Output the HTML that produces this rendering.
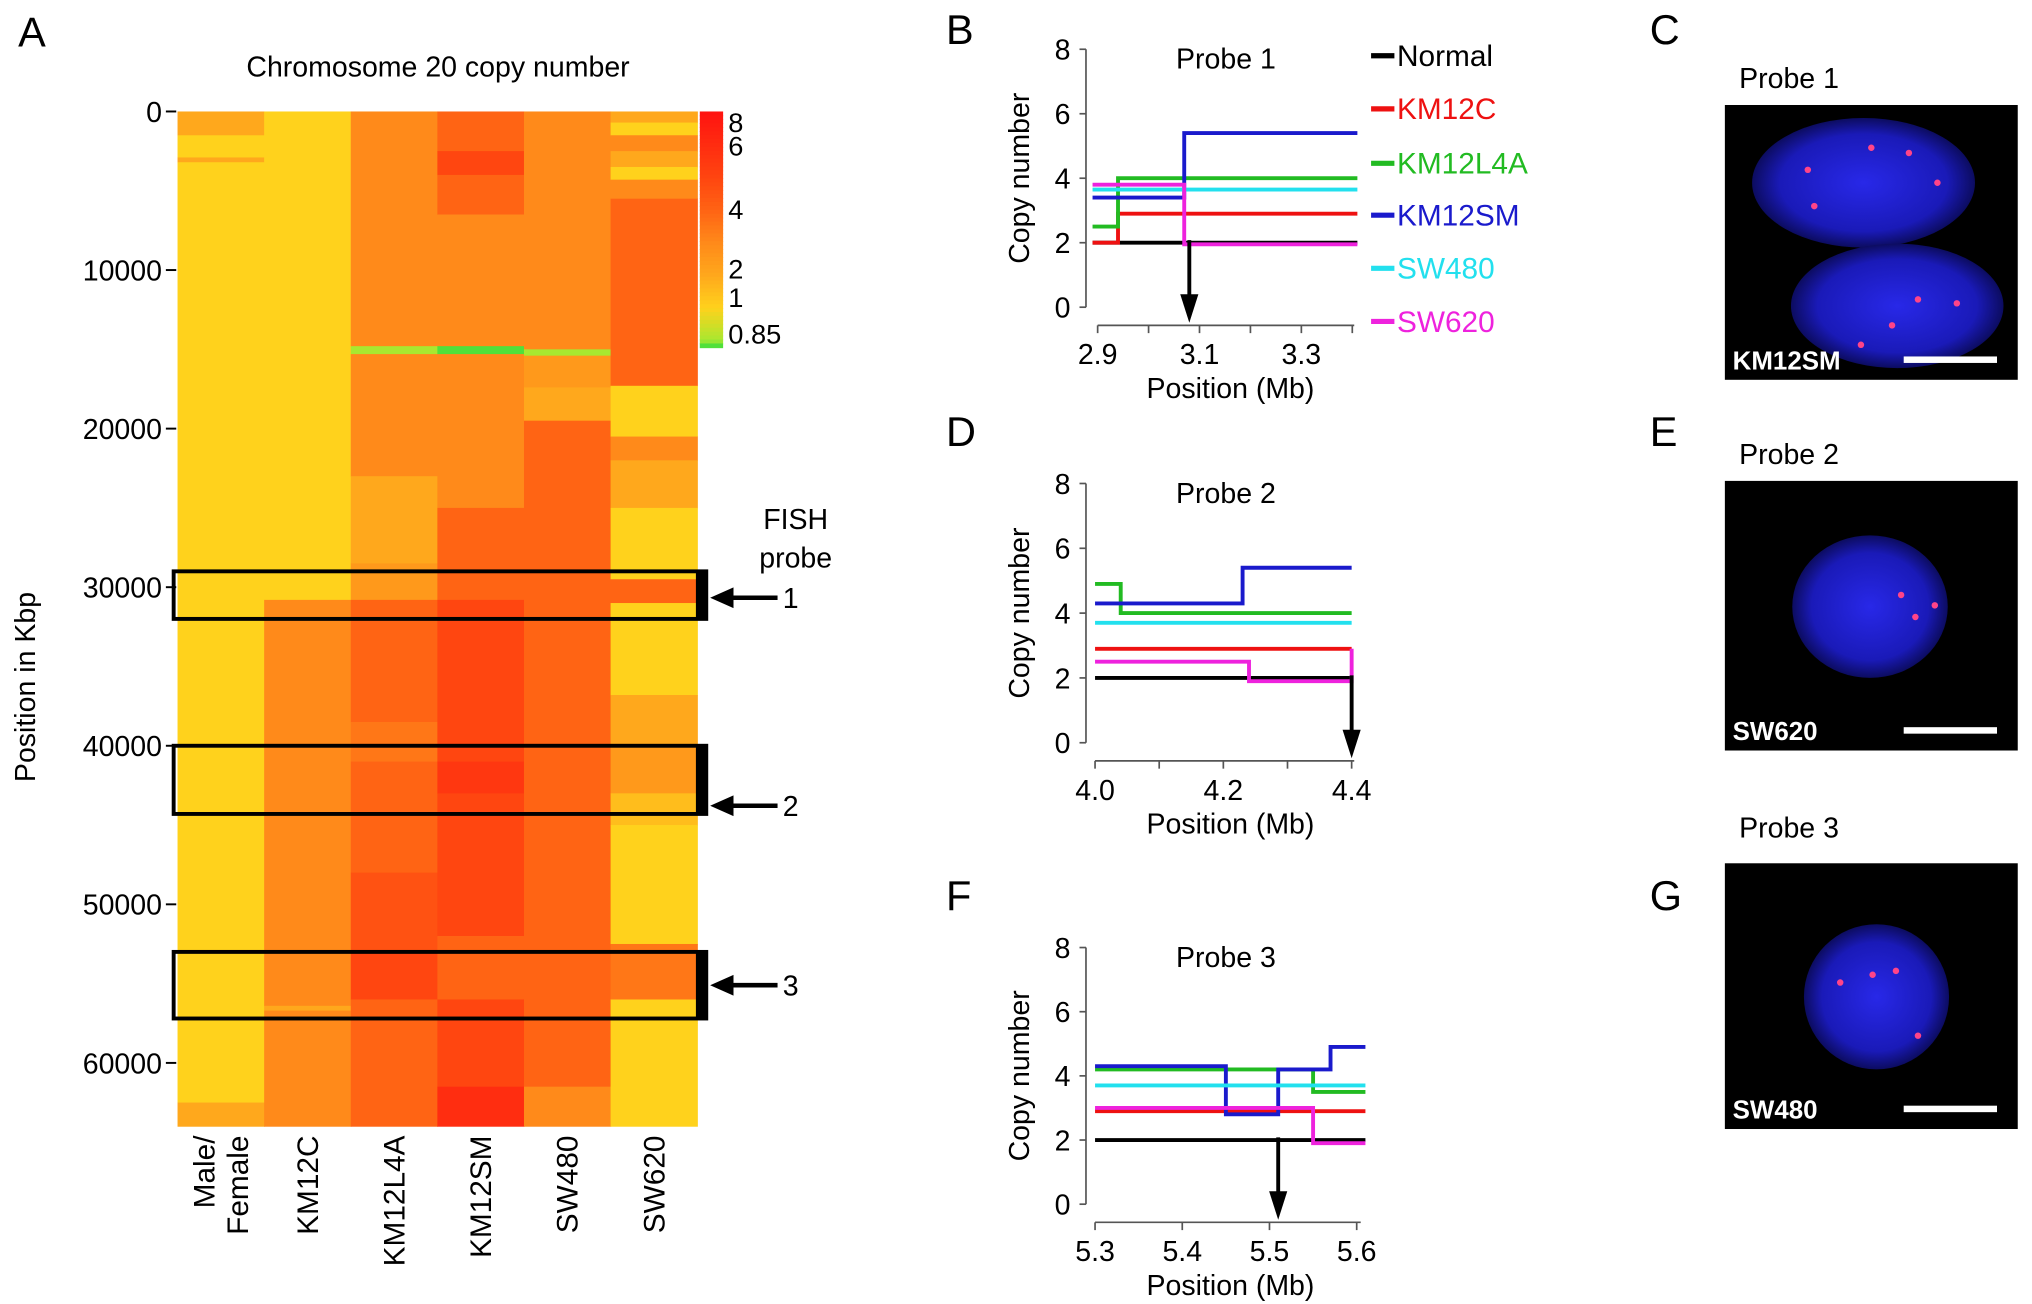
<!DOCTYPE html>
<html><head><meta charset="utf-8"><style>
html,body{margin:0;padding:0;background:#fff}
svg{display:block}
text{font-family:"Liberation Sans",Arial,sans-serif}
</style></head><body>
<svg id="fig" width="2032" height="1304" viewBox="0 0 1568 1006" preserveAspectRatio="none" xmlns="http://www.w3.org/2000/svg">
<g id="panelA"></g>
<g id="panelLines"></g>
<g id="panelImg"></g>
</svg>
<script>
// ---- heatmap data ----
const hmColumns = ["Male/\nFemale","KM12C","KM12L4A","KM12SM","SW480","SW620"];
const hmSegments = [
 [[0,1500,3],[1500,2900,2],[2900,3200,3],[3200,62500,2],[62500,64000,3]],
 [[0,30800,2],[30800,56400,4],[56400,56700,3],[56700,64000,4]],
 [[0,14800,4],[14800,15300,1],[15300,23000,4],[23000,28500,3],[28500,30800,3.5],[30800,38500,5],[38500,41000,4.5],[41000,48000,5],[48000,53000,5.6],[53000,56000,6],[56000,64000,5]],
 [[0,2500,5],[2500,4000,6],[4000,6500,5],[6500,14800,4],[14800,15300,0.85],[15300,25000,4],[25000,30800,5],[30800,41000,6],[41000,43000,6.6],[43000,52000,6],[52000,56000,5],[56000,61500,6],[61500,64000,7]],
 [[0,15000,4],[15000,15400,1],[15400,17400,3.5],[17400,19500,3],[19500,61500,5],[61500,64000,4]],
 [[0,700,3],[700,1500,2],[1500,2500,4],[2500,3500,3],[3500,4300,2],[4300,5500,4],[5500,17300,5],[17300,20500,2],[20500,22000,4],[22000,25000,3],[25000,29500,2],[29500,31000,5],[31000,36800,2],[36800,40000,3],[40000,43000,3.5],[43000,45000,2.5],[45000,52500,2],[52500,56000,4.5],[56000,57500,2],[57500,64000,2]]
];
const hmYTicks = [0,10000,20000,30000,40000,50000,60000];
const cbTicks = [8,6,4,2,1,0.85];
const probeBoxes = [[29000,32000,"1"],[40000,44300,"2"],[53000,57200,"3"]];

// ---- line chart data ----
const seriesNames = ["Normal","KM12C","KM12L4A","KM12SM","SW480","SW620"];
const seriesColors = ["#000000","#ee1111","#22bb22","#1a1acc","#22e0ee","#ee22dd"];
const p1Steps = [
 [[2.89,3.41],[2]],
 [[2.89,2.94,3.41],[2,2.9]],
 [[2.89,2.94,3.41],[2.5,4.0]],
 [[2.89,3.07,3.41],[3.4,5.4]],
 [[2.89,3.41],[3.65]],
 [[2.89,3.07,3.41],[3.8,1.95]]
];
const p2Steps = [
 [[4.0,4.4],[2]],
 [[4.0,4.4],[2.9]],
 [[4.0,4.04,4.4],[4.9,4.0]],
 [[4.0,4.23,4.4],[4.3,5.4]],
 [[4.0,4.4],[3.7]],
 [[4.0,4.24,4.4],[2.5,1.9]]
];
const p3Steps = [
 [[5.3,5.61],[2]],
 [[5.3,5.61],[2.9]],
 [[5.3,5.55,5.61],[4.2,3.5]],
 [[5.3,5.45,5.51,5.57,5.61],[4.3,2.8,4.2,4.9]],
 [[5.3,5.61],[3.7]],
 [[5.3,5.55,5.61],[3.0,1.9]]
];
const p1XTicks=[2.9,3.0,3.1,3.2,3.3,3.4], p1XLabels=[2.9,3.1,3.3];
const p2XTicks=[4.0,4.1,4.2,4.3,4.4], p2XLabels=[4.0,4.2,4.4];
const p3XTicks=[5.3,5.4,5.5,5.6], p3XLabels=[5.3,5.4,5.5,5.6];
const yTicksLine=[0,2,4,6,8];

const NS="http://www.w3.org/2000/svg";
function mk(tag,attrs,parent,txt){const e=document.createElementNS(NS,tag);for(const k in attrs)e.setAttribute(k,attrs[k]);if(txt!==undefined)e.textContent=txt;parent.appendChild(e);return e;}

const stops=[[0.85,[80,224,58]],[1,[168,232,48]],[2,[255,210,28]],[3,[255,168,28]],[4,[255,138,26]],[5,[255,100,20]],[6,[255,70,16]],[8,[255,20,16]]];
function colorOf(v){
 if(v<=stops[0][0])return "rgb("+stops[0][1]+")";
 for(let i=1;i<stops.length;i++){if(v<=stops[i][0]){const a=stops[i-1],b=stops[i];const t=(v-a[0])/(b[0]-a[0]);const c=a[1].map((x,j)=>Math.round(x+(b[1][j]-x)*t));return "rgb("+c+")";}}
 return "rgb("+stops[stops.length-1][1]+")";
}

// ---- Panel A ----
const A=document.getElementById('panelA');
const hx0=137,colW=(538-137)/6;
const ky=v=>86+v*(734/60000);
let t;
t=mk('text',{x:14,y:36,'font-size':32},A,'A');


t=mk('text',{x:338,y:59,'font-size':22,'text-anchor':'middle'},A,'Chromosome 20 copy number');


hmSegments.forEach((col,ci)=>{col.forEach((s,si)=>{
 const r=mk('rect',{x:hx0+ci*colW,y:ky(s[0]),width:colW+0.5,height:ky(s[1])-ky(s[0])+0.3,fill:colorOf(s[2])},A);
 
 
});});
hmYTicks.forEach(v=>{
 const tt=mk('text',{x:125,y:ky(v)+8,'font-size':22,'text-anchor':'end'},A,String(v));
 
 
 mk('line',{x1:128,x2:136,y1:ky(v),y2:ky(v),stroke:'#000','stroke-width':1.5},A);
});
t=mk('text',{transform:'translate(27,530) rotate(-90)','font-size':22,'text-anchor':'middle'},A,'Position in Kbp');


hmColumns.forEach((c,ci)=>{
 const lines=c.split('\n');const cx=hx0+(ci+0.5)*colW;
 lines.forEach((ln,li)=>{
  const off=(li-(lines.length-1)/2)*26;
  const tt=mk('text',{transform:'translate('+(cx+8+off)+',876) rotate(-90)','font-size':23,'text-anchor':'end'},A,ln);
  
  
 });
});
const cbTop=86,cbBot=268;
for(let i=0;i<60;i++){const v=8-(8-0.85)*i/59;mk('rect',{x:540,y:cbTop+(cbBot-cbTop)*i/60,width:18,height:(cbBot-cbTop)/60+0.6,fill:colorOf(v)},A);}
const cbPos=[95,113,162,208,230,258];
cbTicks.forEach((v,i)=>{const tt=mk('text',{x:562,y:cbPos[i]+7,'font-size':21},A,String(v));
 
 });
t=mk('text',{x:614,y:408,'font-size':22,'text-anchor':'middle'},A,'FISH');


mk('text',{x:614,y:438,'font-size':22,'text-anchor':'middle'},A,'probe');
probeBoxes.forEach(b=>{
 const y1=ky(b[0]),y2=ky(b[1]);
 const r=mk('rect',{x:hx0-3,y:y1,width:545-hx0+3,height:y2-y1,fill:'none',stroke:'#000','stroke-width':3},A);
 
 
 mk('rect',{x:537,y:y1,width:8,height:y2-y1,fill:'#000'},A);
 const ay=(y1+y2)/2+ (b[2]==="1"?2:(b[2]==="2"?20:0));
 mk('line',{x1:600,x2:562,y1:ay,y2:ay,stroke:'#000','stroke-width':3.5},A);
 mk('polygon',{points:(548)+','+ay+' '+(566)+','+(ay-8)+' '+(566)+','+(ay+8),fill:'#000'},A);
 const tt=mk('text',{x:604,y:ay+8,'font-size':22},A,b[2]);
 
 
});

// ---- Line panels ----
const L=document.getElementById('panelLines');
function linePanel(id,letter,letterY,title,steps,xticks,xlabels,xmin,x0px,pxPer,yTop,yBot,arrowX,xEnd){
 const g=mk('g',{},L);
 const sx=v=>x0px+(v-xmin)*pxPer; const sy=v=>yBot-(yBot-yTop)*v/8;
 let e=mk('text',{x:730,y:letterY,'font-size':32},g,letter);
 
 
 mk('line',{x1:838,x2:838,y1:sy(8),y2:sy(0),stroke:'#555','stroke-width':1.3},g);
 yTicksLine.forEach(v=>{mk('line',{x1:833,x2:838,y1:sy(v),y2:sy(v),stroke:'#555','stroke-width':1.3},g);
  const tt=mk('text',{x:826,y:sy(v)+8,'font-size':22,'text-anchor':'end'},g,String(v));
  
  });
 const ax=yBot+14;
 mk('line',{x1:sx(xticks[0]),x2:xEnd,y1:ax,y2:ax,stroke:'#555','stroke-width':1.3},g);
 xticks.forEach(v=>mk('line',{x1:sx(v),x2:sx(v),y1:ax,y2:ax+6,stroke:'#555','stroke-width':1.3},g));
 xlabels.forEach(v=>{const tt=mk('text',{x:sx(v),y:ax+30,'font-size':22,'text-anchor':'middle'},g,v.toFixed(1));
  
  });
 e=mk('text',{x:(838+1045)/2+8,y:ax+56,'font-size':22,'text-anchor':'middle'},g,'Position (Mb)');
 
 
 e=mk('text',{transform:'translate(794,'+((yTop+yBot)/2)+') rotate(-90)','font-size':22,'text-anchor':'middle'},g,'Copy number');
 
 
 e=mk('text',{x:946,y:yTop+15,'font-size':22,'text-anchor':'middle'},g,title);
 
 
 steps.forEach((s,si)=>{
  const xs=s[0],vs=s[1];let d='';
  vs.forEach((v,i)=>{d+=(i===0?'M':'L')+sx(xs[i])+','+sy(v)+' L'+sx(xs[i+1])+','+sy(v)+' ';});
  if(id==='probe-2'&&si===5)d+='L'+sx(xs[xs.length-1])+','+sy(2.9);
  const p=mk('path',{d:d,fill:'none',stroke:seriesColors[si],'stroke-width':3},g);
  
  
 });
 const axp=sx(arrowX);
 mk('line',{x1:axp,x2:axp,y1:sy(2)-2,y2:yBot-6,stroke:'#000','stroke-width':3},g);
 mk('polygon',{points:axp+','+(yBot+12)+' '+(axp-7)+','+(yBot-10)+' '+(axp+7)+','+(yBot-10),fill:'#000'},g);
}
linePanel('probe-1','B',34,'Probe 1',p1Steps,p1XTicks,p1XLabels,2.9,847,393,38,237,3.08,1045);
linePanel('probe-2','D',344,'Probe 2',p2Steps,p2XTicks,p2XLabels,4.0,845,495,373,573,4.4,1045);
linePanel('probe-3','F',702,'Probe 3',p3Steps,p3XTicks,p3XLabels,5.3,845,673,731,929,5.51,1050);
const legY=[43,84,126,166,207,248];
seriesNames.forEach((n,i)=>{
 mk('line',{x1:1058,x2:1076,y1:legY[i],y2:legY[i],stroke:seriesColors[i],'stroke-width':4},L);
 const tt=mk('text',{x:1078,y:legY[i]+8,'font-size':23,fill:seriesColors[i]},L,n);
 
 
});

// ---- micrographs ----
const I=document.getElementById('panelImg');
mk('defs',{},I).innerHTML='<radialGradient id="nuc" cx="50%" cy="50%" r="50%"><stop offset="0" stop-color="#2828e8"/><stop offset="0.75" stop-color="#1a1ab8"/><stop offset="1" stop-color="#0c0c60"/></radialGradient>';
function micro(letter,ly,title,ty,by,bh,label,nuclei,dots){
 let e=mk('text',{x:1273,y:ly,'font-size':32},I,letter);
 
 
 e=mk('text',{x:1342,y:ty,'font-size':22},I,title);
 
 
 e=mk('rect',{x:1331,y:by,width:226,height:bh,fill:'#000'},I);
 
 
 nuclei.forEach(n=>mk('ellipse',{cx:n[0],cy:by+n[1],rx:n[2],ry:n[3],fill:'url(#nuc)'},I));
 dots.forEach(d=>mk('circle',{cx:d[0],cy:by+d[1],r:2.5,fill:'#ff4488'},I));
 e=mk('text',{x:1337,y:by+bh-8,'font-size':20,'font-weight':'bold',fill:'#fff'},I,label);
 
 
 mk('rect',{x:1469,y:by+bh-18,width:72,height:5,fill:'#fff'},I);
}
micro('C',34,'Probe 1',68,81,212,'KM12SM',[[1438,60,86,50],[1464,155,82,48]],[[1395,50],[1444,33],[1473,37],[1495,60],[1400,78],[1480,150],[1510,153],[1460,170],[1436,185]]);
micro('E',344,'Probe 2',358,371,208,'SW620',[[1443,97,60,55]],[[1467,88],[1493,96],[1478,105]]);
micro('G',702,'Probe 3',646,666,205,'SW480',[[1448,103,56,56]],[[1420,92],[1445,86],[1463,83],[1480,133]]);
</script>
</body></html>
